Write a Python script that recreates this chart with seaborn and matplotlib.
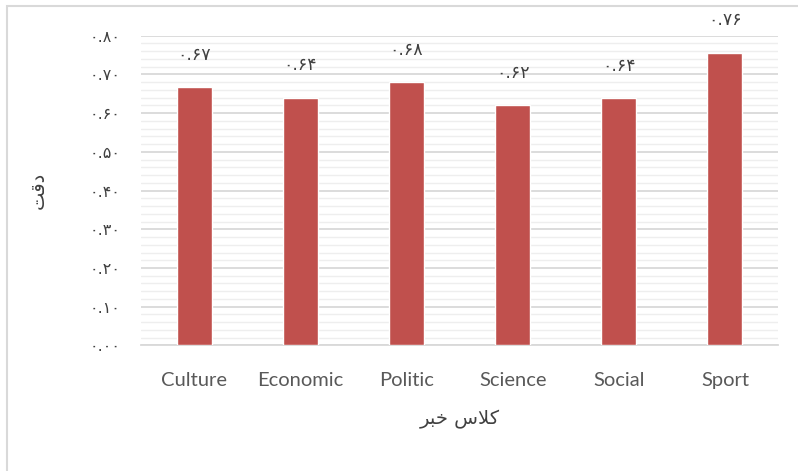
import matplotlib
matplotlib.use("Agg")
import matplotlib.pyplot as plt
import seaborn as sns
import pandas as pd
from matplotlib.patches import Rectangle
from matplotlib.ticker import MultipleLocator, FixedLocator

# data
categories = ["Culture", "Economic", "Politic", "Science", "Social", "Sport"]
accuracy = [0.666, 0.640, 0.679, 0.621, 0.639, 0.756]
y_ticks = [0.0, 0.1, 0.2, 0.3, 0.4, 0.5, 0.6, 0.7, 0.8]

# persian text with presentation forms (word order as matplotlib lays it out)
x_title = "\uFEAE\uFE92\uFEA7 \uFEB1\uFEFC\uFEDB"   # کلاس خبر
y_title = "\uFE96\uFED7\uFEA9"                      # دقت

fa_digits = str.maketrans("0123456789", "۰۱۲۳۴۵۶۷۸۹")


def to_fa(v):
    return "{:.2f}".format(v).translate(fa_digits)


df = pd.DataFrame({"category": categories, "accuracy": accuracy})

sns.set_style("white")
plt.rcParams["font.family"] = ["Lato", "DejaVu Sans"]

fig = plt.figure(figsize=(7.98, 4.71), dpi=100)
ax = fig.add_axes([0.1767, 0.2665, 0.975 - 0.1767, 0.658])

sns.barplot(data=df, x="category", y="accuracy", color="#C0504D",
            saturation=1, width=0.33, ax=ax, zorder=3)

ax.set_ylim(0, 0.8)
ax.yaxis.set_major_locator(FixedLocator(y_ticks))
ax.yaxis.set_minor_locator(MultipleLocator(0.02))
ax.grid(axis="y", which="major", color="#D9D9D9", lw=1.3, zorder=0)
ax.grid(axis="y", which="minor", color="#EEEEEE", lw=1.0, zorder=0)
ax.set_axisbelow(True)
for s in ["top", "right", "left"]:
    ax.spines[s].set_visible(False)
ax.spines["bottom"].set_color("#D9D9D9")
ax.spines["bottom"].set_linewidth(1.3)

ax.set_yticklabels([to_fa(t) for t in y_ticks], color="#404040",
                   fontsize=11.5, family=["DejaVu Sans"])
ax.tick_params(axis="y", which="both", length=0, pad=15)
ax.tick_params(axis="x", length=0, pad=19, labelsize=14.5, labelcolor="#595959")

# data labels above bars
for i, v in enumerate(accuracy):
    ax.text(i, v + 0.083, to_fa(v), ha="center", va="center",
            fontsize=12.5, color="#404040", family=["DejaVu Sans"], clip_on=False)

ax.set_xlabel(x_title, fontsize=14, color="#404040", labelpad=15,
              family=["DejaVu Sans"])
ax.set_ylabel(y_title, fontsize=14, color="#404040", labelpad=30,
              family=["DejaVu Sans"])

# chart area border
fig.patches.append(Rectangle((7 / 798, -0.2), 1.5, 1.2 - 6 / 471,
                             transform=fig.transFigure, fill=False,
                             edgecolor="#D9D9D9", lw=1.5))

fig.savefig("out.png", dpi=100)
